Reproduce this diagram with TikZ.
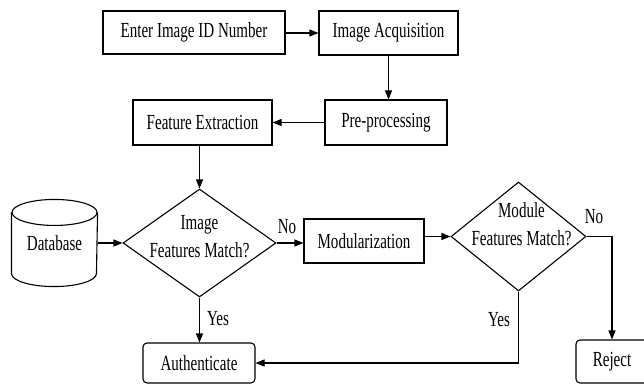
\documentclass[tikz,border=0pt]{standalone}
\usepackage{fontspec}
\setmainfont{Liberation Serif}[FakeStretch=0.7]
\usetikzlibrary{arrows.meta,shapes.geometric}
\newcommand{\lblfont}{\fontsize{21.5}{28}\selectfont}
\tikzset{
  box/.style={draw, rectangle, inner sep=0pt, font=\lblfont},
  rbox/.style={box, rounded corners=4pt},
  dec/.style={draw, diamond, inner sep=0pt, shape aspect=1},
  txt/.style={font=\lblfont, inner sep=0pt},
  arr/.style={-{Triangle[length=9pt,width=7pt]}},
}
\begin{document}
\begin{tikzpicture}[x=1pt,y=-1pt,line width=1.1pt]
\path[use as bounding box] (0,0) rectangle (644,385);
\clip (0,0) rectangle (644,385);
\fill[white] (0,0) rectangle (644,385);

\node[box, minimum width=182pt, minimum height=43pt] (enter) at (194,32.5) {Enter Image ID Number};
\node[box, minimum width=139pt, minimum height=44pt] (acq) at (388.5,33) {Image Acquisition};
\node[box, minimum width=122pt, minimum height=45pt] (pre) at (386,122.5) {Pre-processing};
\node[box, minimum width=139pt, minimum height=45pt] (feat) at (202.5,122.5) {Feature Extraction};

\node[dec, minimum width=153pt, minimum height=108pt,
  label={[txt, align=center, yshift=6pt]center:Image\\Features Match?}] (d1) at (199.5,243) {};
\node[inner sep=0pt, minimum width=85pt, minimum height=86pt, font=\lblfont] (db) at (54.5,243) {Database};
\draw ([yshift=-13pt]db.north) ellipse [x radius=42.5pt, y radius=13pt];
\draw ([yshift=-13pt]db.north west) -- ([yshift=13pt]db.south west)
  arc[start angle=180, end angle=360, x radius=42.5pt, y radius=13pt]
  -- ([yshift=-13pt]db.north east);

\node[box, minimum width=120pt, minimum height=44pt] (mod) at (364,241) {Modularization};
\node[dec, minimum width=135pt, minimum height=109pt,
  label={[txt, align=center, yshift=12pt, xshift=3pt]center:Module\\Features Match?}] (d2) at (518.5,236.5) {};

\node[rbox, minimum width=112pt, minimum height=40pt] (auth) at (199,363) {Authenticate};
\node[rbox, minimum width=72pt, minimum height=43pt] (rej) at (612,361.5) {Reject};

\draw[arr] (enter.east |- acq.west) -- (acq.west);
\draw[arr] (acq.south) -- (acq.south |- pre.north);
\draw[arr] (pre.west) -- (feat.east);
\draw[arr] (feat.south -| d1.north) -- (d1.north);
\draw[arr] (db.east) -- (d1.west);
\draw[arr] (d1.east) -- (d1.east -| mod.west);
\draw[arr] (mod.east |- d2.west) -- (d2.west);
\coordinate (nocorner) at (612,236.5);
\draw[arr] (d2.east) -- (nocorner) -- (rej.north);
\draw[arr] (d1.south) -- (d1.south |- auth.north);
\draw[arr] (d2.south) -- (d2.south |- auth.east) -- (auth.east);

\node[txt] (no1) at (287,227) {No};
\node[txt] (no2) at (594,217) {No};
\node[txt] (yes1) at (218,319) {Yes};
\node[txt] (yes2) at (499,320) {Yes};
\end{tikzpicture}
\end{document}
